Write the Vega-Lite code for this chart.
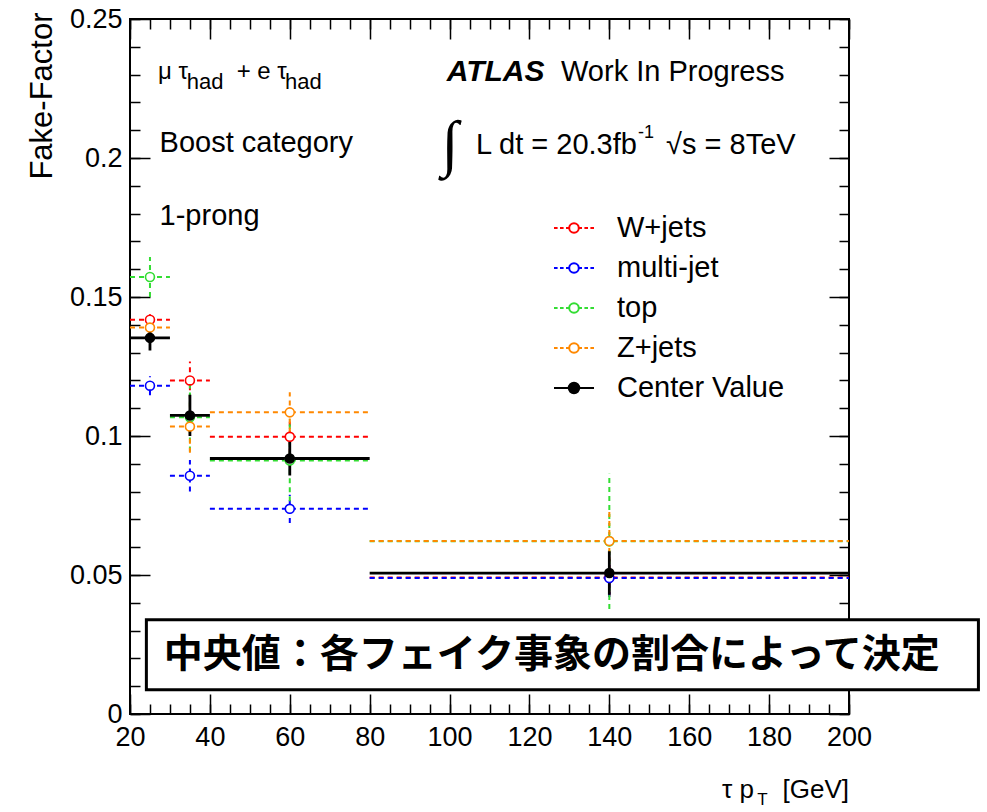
{
  "$schema": "https://vega.github.io/schema/vega-lite/v6.json",
  "autosize": {"type": "none"},
  "width": 719,
  "height": 695,
  "padding": {"left": 130, "top": 19, "right": 138, "bottom": 98},
  "background": "white",
  "config": {
    "font": "Liberation Sans",
    "view": {"stroke": "black", "strokeWidth": 2},
    "axis": {
      "domain": false, "grid": false, "tickColor": "black", "tickWidth": 1.5,
      "labelColor": "black", "labelFont": "Liberation Sans", "labelFontSize": 27,
      "labelFlush": false, "labelOverlap": false, "labelBound": false,
      "titleFont": "Liberation Sans", "titleColor": "black", "titleFontWeight": "normal"
    }
  },
  "data": {"values": [
    {"series":"W+jets","xlo":20,"xhi":30,"x":25,"y":0.1418,"ylo":0.1388,"yhi":0.1448},
    {"series":"W+jets","xlo":30,"xhi":40,"x":35,"y":0.1200,"ylo":0.1132,"yhi":0.1268},
    {"series":"W+jets","xlo":40,"xhi":80,"x":60,"y":0.0997,"ylo":0.0937,"yhi":0.1057},
    {"series":"W+jets","xlo":80,"xhi":200,"x":140,"y":0.0491,"ylo":0.0423,"yhi":0.0559},
    {"series":"multi-jet","xlo":20,"xhi":30,"x":25,"y":0.1181,"ylo":0.1147,"yhi":0.1215},
    {"series":"multi-jet","xlo":30,"xhi":40,"x":35,"y":0.0857,"ylo":0.0800,"yhi":0.0914},
    {"series":"multi-jet","xlo":40,"xhi":80,"x":60,"y":0.0738,"ylo":0.0687,"yhi":0.0789},
    {"series":"multi-jet","xlo":80,"xhi":200,"x":140,"y":0.0489,"ylo":0.0421,"yhi":0.0557},
    {"series":"top","xlo":20,"xhi":30,"x":25,"y":0.1572,"ylo":0.1500,"yhi":0.1644},
    {"series":"top","xlo":30,"xhi":40,"x":35,"y":0.1067,"ylo":0.0944,"yhi":0.1190},
    {"series":"top","xlo":40,"xhi":80,"x":60,"y":0.0912,"ylo":0.0765,"yhi":0.1059},
    {"series":"top","xlo":80,"xhi":200,"x":140,"y":0.0621,"ylo":0.0378,"yhi":0.0864},
    {"series":"Z+jets","xlo":20,"xhi":30,"x":25,"y":0.1390,"ylo":0.1360,"yhi":0.1420},
    {"series":"Z+jets","xlo":30,"xhi":40,"x":35,"y":0.1034,"ylo":0.0940,"yhi":0.1128},
    {"series":"Z+jets","xlo":40,"xhi":80,"x":60,"y":0.1085,"ylo":0.1013,"yhi":0.1157},
    {"series":"Z+jets","xlo":80,"xhi":200,"x":140,"y":0.0622,"ylo":0.0514,"yhi":0.0730},
    {"series":"Center Value","xlo":20,"xhi":30,"x":25,"y":0.1353,"ylo":0.1308,"yhi":0.1398},
    {"series":"Center Value","xlo":30,"xhi":40,"x":35,"y":0.1074,"ylo":0.1000,"yhi":0.1148},
    {"series":"Center Value","xlo":40,"xhi":80,"x":60,"y":0.0919,"ylo":0.0858,"yhi":0.0980},
    {"series":"Center Value","xlo":80,"xhi":200,"x":140,"y":0.0507,"ylo":0.0429,"yhi":0.0585}
  ]},
  "resolve": {"axis": {"x": "independent", "y": "independent"}},
  "layer": [
    {
      "mark": {"type": "rule"},
      "encoding": {
        "x": {"field": "xlo", "type": "quantitative",
              "scale": {"domain": [20, 200], "nice": false, "zero": false},
              "axis": {"orient": "bottom", "values": [20,40,60,80,100,120,140,160,180,200], "tickSize": -20, "labelPadding": 30, "title": null}},
        "x2": {"field": "xhi"},
        "y": {"field": "y", "type": "quantitative",
              "scale": {"domain": [0, 0.25], "nice": false, "zero": false},
              "axis": {"orient": "left", "values": [0,0.05,0.1,0.15,0.2,0.25], "format": "~g", "tickSize": -20, "labelPadding": 28,
                       "title": "Fake-Factor", "titleFontSize": 31, "titleAngle": -90, "titleX": -88, "titleY": -7, "titleAlign": "right", "titleBaseline": "middle"}},
        "stroke": {"condition": [
          {"test": "datum.series === 'W+jets'", "value": "#ff0000"},
          {"test": "datum.series === 'multi-jet'", "value": "#0000ff"},
          {"test": "datum.series === 'top'", "value": "#33dd33"},
          {"test": "datum.series === 'Z+jets'", "value": "#ff8800"}], "value": "#000000"},
        "strokeDash": {"condition": {"test": "datum.series === 'Center Value'", "value": [1, 0]}, "value": [5, 4]},
        "strokeWidth": {"condition": {"test": "datum.series === 'Center Value'", "value": 2.8}, "value": 2}
      }
    },
    {
      "mark": {"type": "rule"},
      "encoding": {
        "x": {"field": "x", "type": "quantitative",
              "axis": {"orient": "bottom", "values": [20,25,30,35,40,45,50,55,60,65,70,75,80,85,90,95,100,105,110,115,120,125,130,135,140,145,150,155,160,165,170,175,180,185,190,195,200], "tickSize": -10, "labels": false, "title": null}},
        "y": {"field": "ylo", "type": "quantitative",
              "axis": {"orient": "left", "values": [0,0.01,0.02,0.03,0.04,0.05,0.06,0.07,0.08,0.09,0.1,0.11,0.12,0.13,0.14,0.15,0.16,0.17,0.18,0.19,0.2,0.21,0.22,0.23,0.24,0.25], "tickSize": -10, "labels": false, "title": null}},
        "y2": {"field": "yhi"},
        "stroke": {"condition": [
          {"test": "datum.series === 'W+jets'", "value": "#ff0000"},
          {"test": "datum.series === 'multi-jet'", "value": "#0000ff"},
          {"test": "datum.series === 'top'", "value": "#33dd33"},
          {"test": "datum.series === 'Z+jets'", "value": "#ff8800"}], "value": "#000000"},
        "strokeDash": {"condition": {"test": "datum.series === 'Center Value'", "value": [1, 0]}, "value": [5, 4]},
        "strokeWidth": {"condition": {"test": "datum.series === 'Center Value'", "value": 2.8}, "value": 2}
      }
    },
    {
      "mark": {"type": "point", "filled": true, "opacity": 1, "size": 80, "strokeWidth": 1.6},
      "encoding": {
        "x": {"field": "x", "type": "quantitative",
              "axis": {"orient": "top", "values": [20,40,60,80,100,120,140,160,180,200], "tickSize": -20, "labels": false, "title": null}},
        "y": {"field": "y", "type": "quantitative",
              "axis": {"orient": "right", "values": [0,0.05,0.1,0.15,0.2,0.25], "tickSize": -20, "labels": false, "title": null}},
        "stroke": {"condition": [
          {"test": "datum.series === 'W+jets'", "value": "#ff0000"},
          {"test": "datum.series === 'multi-jet'", "value": "#0000ff"},
          {"test": "datum.series === 'top'", "value": "#33dd33"},
          {"test": "datum.series === 'Z+jets'", "value": "#ff8800"}], "value": "#000000"},
        "fill": {"condition": {"test": "datum.series === 'Center Value'", "value": "#000000"}, "value": "#ffffff"}
      }
    },
    {
      "transform": [{"filter": "false"}],
      "mark": {"type": "point", "filled": true, "opacity": 1},
      "encoding": {
        "x": {"field": "x", "type": "quantitative",
              "axis": {"orient": "top", "values": [20,25,30,35,40,45,50,55,60,65,70,75,80,85,90,95,100,105,110,115,120,125,130,135,140,145,150,155,160,165,170,175,180,185,190,195,200], "tickSize": -10, "labels": false, "title": null}},
        "y": {"field": "y", "type": "quantitative",
              "axis": {"orient": "right", "values": [0,0.01,0.02,0.03,0.04,0.05,0.06,0.07,0.08,0.09,0.1,0.11,0.12,0.13,0.14,0.15,0.16,0.17,0.18,0.19,0.2,0.21,0.22,0.23,0.24,0.25], "tickSize": -10, "labels": false, "title": null}},
        "stroke": {"field": "series", "type": "nominal",
                   "scale": {"domain": ["W+jets","multi-jet","top","Z+jets","Center Value"], "range": ["#ff0000","#0000ff","#33dd33","#ff8800","#000000"]},
                   "legend": {"orient": "none", "legendX": 423, "legendY": 188, "title": null, "padding": 0, "rowPadding": 4, "symbolSize": 1600, "symbolStrokeWidth": 2, "labelFont": "Liberation Sans", "labelFontSize": 29, "labelColor": "black", "labelOffset": 22, "labelLimit": 0}},
        "fill": {"field": "series", "type": "nominal",
                 "scale": {"domain": ["W+jets","multi-jet","top","Z+jets","Center Value"], "range": ["#ffffff","#ffffff","#ffffff","#ffffff","#000000"]},
                 "legend": {"orient": "none", "legendX": 423, "legendY": 188, "title": null, "padding": 0, "rowPadding": 4, "symbolSize": 1600, "symbolStrokeWidth": 2, "labelFont": "Liberation Sans", "labelFontSize": 29, "labelColor": "black", "labelOffset": 22, "labelLimit": 0}},
        "shape": {"field": "series", "type": "nominal",
                  "scale": {"domain": ["W+jets","multi-jet","top","Z+jets","Center Value"],
                            "range": [
                              "M-1,0H-0.82M-0.7,0H-0.52M-0.4,0H-0.25M0.25,0H0.4M0.52,0H0.7M0.82,0H1M0.24,0A0.24,0.24 0 1 1 -0.24,0A0.24,0.24 0 1 1 0.24,0Z",
                              "M-1,0H-0.82M-0.7,0H-0.52M-0.4,0H-0.25M0.25,0H0.4M0.52,0H0.7M0.82,0H1M0.24,0A0.24,0.24 0 1 1 -0.24,0A0.24,0.24 0 1 1 0.24,0Z",
                              "M-1,0H-0.82M-0.7,0H-0.52M-0.4,0H-0.25M0.25,0H0.4M0.52,0H0.7M0.82,0H1M0.24,0A0.24,0.24 0 1 1 -0.24,0A0.24,0.24 0 1 1 0.24,0Z",
                              "M-1,0H-0.82M-0.7,0H-0.52M-0.4,0H-0.25M0.25,0H0.4M0.52,0H0.7M0.82,0H1M0.24,0A0.24,0.24 0 1 1 -0.24,0A0.24,0.24 0 1 1 0.24,0Z",
                              "M-1,0H1M0.26,0A0.26,0.26 0 1 1 -0.26,0A0.26,0.26 0 1 1 0.26,0Z"]},
                  "legend": {"orient": "none", "legendX": 423, "legendY": 188, "title": null, "padding": 0, "rowPadding": 4, "symbolSize": 1600, "symbolStrokeWidth": 2, "labelFont": "Liberation Sans", "labelFontSize": 29, "labelColor": "black", "labelOffset": 22, "labelLimit": 0}}
      }
    },
    {
      "data": {"values": [{}]},
      "mark": {"type": "rect", "fill": "white", "stroke": "black", "strokeWidth": 3},
      "encoding": {
        "x": {"datum": 24.1, "type": "quantitative", "axis": null},
        "x2": {"datum": 232.4},
        "y": {"datum": 0.0339, "type": "quantitative", "axis": null},
        "y2": {"datum": 0.0087}
      }
    },
    {
      "data": {"values": [{}]},
      "mark": {"type": "text", "text": "中央値：各フェイク事象の割合によって決定", "font": "Noto Sans CJK JP", "fontWeight": "bold", "fontSize": 39, "align": "center", "baseline": "middle", "color": "black"},
      "encoding": {"x": {"datum": 125.6, "type": "quantitative", "axis": null}, "y": {"datum": 0.0213, "type": "quantitative", "axis": null}}
    },
    {
      "data": {"values": [{}]},
      "mark": {"type": "text", "text": "μ τ", "fontSize": 24, "align": "left", "baseline": "middle", "color": "black"},
      "encoding": {"x": {"datum": 27.0, "type": "quantitative", "axis": null}, "y": {"datum": 0.2308, "type": "quantitative", "axis": null}}
    },
    {
      "data": {"values": [{}]},
      "mark": {"type": "text", "text": "had", "fontSize": 22, "align": "left", "baseline": "middle", "color": "black"},
      "encoding": {"x": {"datum": 34.2, "type": "quantitative", "axis": null}, "y": {"datum": 0.2272, "type": "quantitative", "axis": null}}
    },
    {
      "data": {"values": [{}]},
      "mark": {"type": "text", "text": "+ e τ", "fontSize": 24, "align": "left", "baseline": "middle", "color": "black"},
      "encoding": {"x": {"datum": 46.7, "type": "quantitative", "axis": null}, "y": {"datum": 0.2308, "type": "quantitative", "axis": null}}
    },
    {
      "data": {"values": [{}]},
      "mark": {"type": "text", "text": "had", "fontSize": 22, "align": "left", "baseline": "middle", "color": "black"},
      "encoding": {"x": {"datum": 58.8, "type": "quantitative", "axis": null}, "y": {"datum": 0.2272, "type": "quantitative", "axis": null}}
    },
    {
      "data": {"values": [{}]},
      "mark": {"type": "text", "text": "Boost category", "fontSize": 29, "align": "left", "baseline": "middle", "color": "black"},
      "encoding": {"x": {"datum": 27.4, "type": "quantitative", "axis": null}, "y": {"datum": 0.2054, "type": "quantitative", "axis": null}}
    },
    {
      "data": {"values": [{}]},
      "mark": {"type": "text", "text": "1-prong", "fontSize": 29, "align": "left", "baseline": "middle", "color": "black"},
      "encoding": {"x": {"datum": 27.4, "type": "quantitative", "axis": null}, "y": {"datum": 0.1791, "type": "quantitative", "axis": null}}
    },
    {
      "data": {"values": [{}]},
      "mark": {"type": "text", "text": "ATLAS", "fontSize": 30, "fontWeight": "bold", "fontStyle": "italic", "align": "left", "baseline": "middle", "color": "black"},
      "encoding": {"x": {"datum": 99.3, "type": "quantitative", "axis": null}, "y": {"datum": 0.2309, "type": "quantitative", "axis": null}}
    },
    {
      "data": {"values": [{}]},
      "mark": {"type": "text", "text": "Work In Progress", "fontSize": 29, "align": "left", "baseline": "middle", "color": "black"},
      "encoding": {"x": {"datum": 127.9, "type": "quantitative", "axis": null}, "y": {"datum": 0.2309, "type": "quantitative", "axis": null}}
    },
    {
      "data": {"values": [{}]},
      "mark": {"type": "text", "text": "∫", "font": "Liberation Serif", "fontSize": 62, "align": "left", "baseline": "middle", "color": "black"},
      "encoding": {"x": {"datum": 98.0, "type": "quantitative", "axis": null}, "y": {"datum": 0.2047, "type": "quantitative", "axis": null}}
    },
    {
      "data": {"values": [{}]},
      "mark": {"type": "text", "text": "L dt = 20.3fb", "fontSize": 29, "align": "left", "baseline": "middle", "color": "black"},
      "encoding": {"x": {"datum": 106.6, "type": "quantitative", "axis": null}, "y": {"datum": 0.2047, "type": "quantitative", "axis": null}}
    },
    {
      "data": {"values": [{}]},
      "mark": {"type": "text", "text": "-1", "fontSize": 18, "align": "left", "baseline": "middle", "color": "black"},
      "encoding": {"x": {"datum": 147.2, "type": "quantitative", "axis": null}, "y": {"datum": 0.2090, "type": "quantitative", "axis": null}}
    },
    {
      "data": {"values": [{}]},
      "mark": {"type": "text", "text": "√s = 8TeV", "fontSize": 29, "align": "left", "baseline": "middle", "color": "black"},
      "encoding": {"x": {"datum": 154.2, "type": "quantitative", "axis": null}, "y": {"datum": 0.2047, "type": "quantitative", "axis": null}}
    },
    {
      "data": {"values": [{}]},
      "mark": {"type": "text", "text": "τ p", "fontSize": 26, "align": "left", "baseline": "middle", "color": "black"},
      "encoding": {"x": {"datum": 168.2, "type": "quantitative", "axis": null}, "y": {"datum": -0.0272, "type": "quantitative", "axis": null}}
    },
    {
      "data": {"values": [{}]},
      "mark": {"type": "text", "text": "T", "fontSize": 17, "align": "left", "baseline": "middle", "color": "black"},
      "encoding": {"x": {"datum": 177.0, "type": "quantitative", "axis": null}, "y": {"datum": -0.0308, "type": "quantitative", "axis": null}}
    },
    {
      "data": {"values": [{}]},
      "mark": {"type": "text", "text": "[GeV]", "fontSize": 26, "align": "right", "baseline": "middle", "color": "black"},
      "encoding": {"x": {"datum": 200, "type": "quantitative", "axis": null}, "y": {"datum": -0.0272, "type": "quantitative", "axis": null}}
    }
  ]
}
